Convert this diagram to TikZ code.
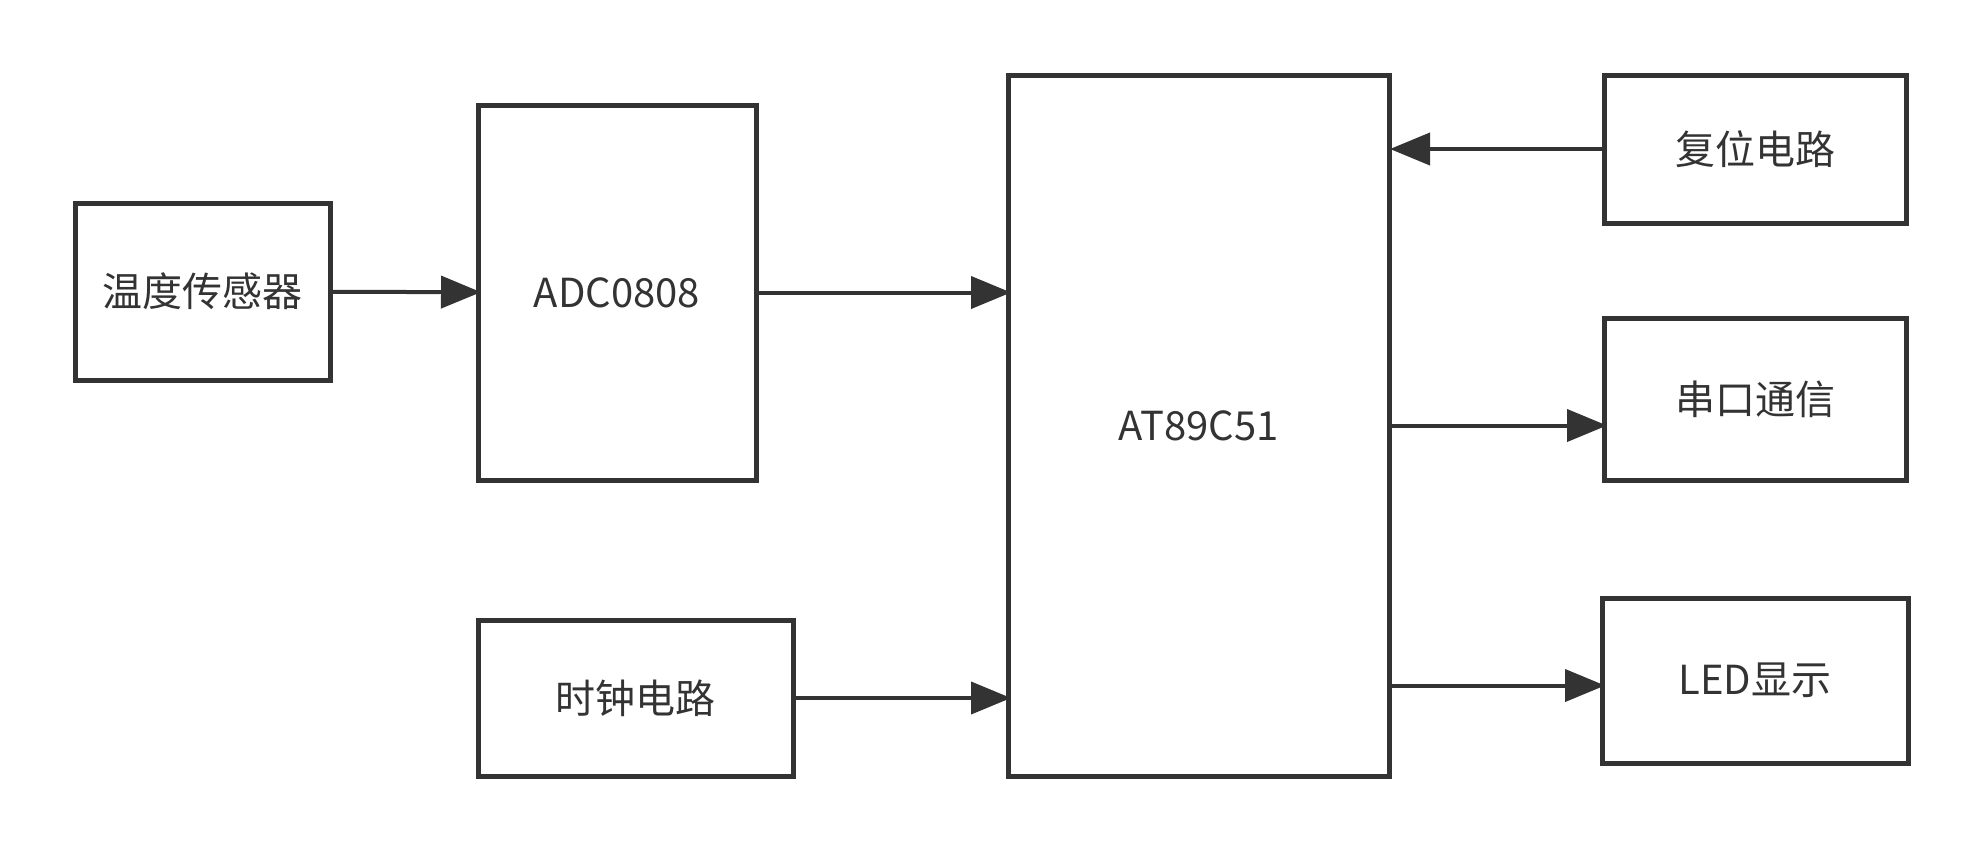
\documentclass[tikz,border=0pt]{standalone}
\usepackage{xcolor}
\usepackage{fontspec}
\setmainfont{Noto Sans CJK SC}
\usepackage{tikz}
\usetikzlibrary{arrows.meta,calc,positioning}
\definecolor{linegray}{HTML}{333333}
\tikzset{
  block/.style={draw=linegray, line width=2.5pt, rectangle, align=center,
    text=linegray, font=\fontsize{20}{24}\selectfont, inner sep=0pt, outer sep=0pt},
  flow/.style={draw=linegray, line width=2pt, shorten >=-1.5pt,
    -{Triangle[length=20pt,width=16pt]}}
}

\begin{document}
\begin{tikzpicture}[x=0.5pt,y=-0.5pt]
\useasboundingbox (0,0) rectangle (1984,852);
% left column
\node[block, minimum width=127.5pt, minimum height=88.5pt] (temp) at (202.5,291.5) {温度传感器};
\node[block, minimum width=139pt, minimum height=187.5pt] (adc) at (617,292.5) {ADC0808};
\node[block, minimum width=157.5pt, minimum height=78pt] (clock) at (635.5,698) {时钟电路};
% mcu
\node[block, minimum width=190.5pt, minimum height=350.5pt] (mcu) at (1198.5,425.5) {AT89C51};
% right column
\node[block, minimum width=151pt, minimum height=74pt] (reset) at (1755,149) {复位电路};
\node[block, minimum width=151pt, minimum height=81pt] (uart) at (1755,399) {串口通信};
\node[block, minimum width=153pt, minimum height=82.5pt] (led) at (1755,680.5) {LED显示};

\draw[flow] (temp) -- (adc);
\draw[flow] (adc.east) -- (mcu.west |- adc.east);
\draw[flow] (clock.east) -- (mcu.west |- clock.east);
\draw[flow] (reset.west) -- ($(mcu.east |- reset.west)+(4,0)$);
\draw[flow] (mcu.east) -- (uart.west |- mcu.east);
\draw[flow] ($(mcu.east |- led.west)+(0,5)$) -- ($(led.west)+(0,5)$);
\end{tikzpicture}
\end{document}
